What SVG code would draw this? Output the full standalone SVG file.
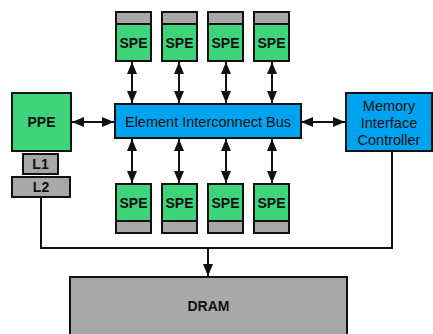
<svg xmlns="http://www.w3.org/2000/svg" width="433" height="334" viewBox="0 0 433 334">
<style>
.g{fill:#3dd47c;stroke:#111;stroke-width:2}
.b{fill:#00a3ef;stroke:#111;stroke-width:2}
.c{fill:#a8a8a8;stroke:#111;stroke-width:2}
.bt{font-family:"Liberation Sans",Arial,sans-serif;font-weight:bold;font-size:14px;fill:#111;text-anchor:middle}
.t{font-family:"Liberation Sans",Arial,sans-serif;font-size:14.5px;fill:#111;text-anchor:middle}
.l{stroke:#111;stroke-width:2;fill:none}
</style>
<defs>
<marker id="a" viewBox="0 0 12 10" refX="12" refY="5" markerWidth="12" markerHeight="10" markerUnits="userSpaceOnUse" orient="auto-start-reverse">
<path d="M0,0 L12,5 L0,10 Z" fill="#111"/>
</marker>
</defs>
<rect width="433" height="334" fill="#fff"/>
<g id="connectors">
<line class="l" x1="132" y1="62" x2="132" y2="103" marker-start="url(#a)" marker-end="url(#a)"/>
<line class="l" x1="179" y1="62" x2="179" y2="103" marker-start="url(#a)" marker-end="url(#a)"/>
<line class="l" x1="226" y1="62" x2="226" y2="103" marker-start="url(#a)" marker-end="url(#a)"/>
<line class="l" x1="272" y1="62" x2="272" y2="103" marker-start="url(#a)" marker-end="url(#a)"/>
<line class="l" x1="132" y1="139" x2="132" y2="183" marker-start="url(#a)" marker-end="url(#a)"/>
<line class="l" x1="179" y1="139" x2="179" y2="183" marker-start="url(#a)" marker-end="url(#a)"/>
<line class="l" x1="226" y1="139" x2="226" y2="183" marker-start="url(#a)" marker-end="url(#a)"/>
<line class="l" x1="272" y1="139" x2="272" y2="183" marker-start="url(#a)" marker-end="url(#a)"/>
<line class="l" x1="72" y1="122" x2="114" y2="122" marker-start="url(#a)" marker-end="url(#a)"/>
<line class="l" x1="301" y1="122" x2="345" y2="122" marker-start="url(#a)" marker-end="url(#a)"/>
<polyline class="l" points="41,197 41,248 392,248 392,151"/>
<line class="l" x1="208" y1="248" x2="208" y2="276" marker-end="url(#a)"/>
</g>
<g id="spe-top-1"><rect class="c" x="116" y="12" width="35" height="12"/><rect class="g" x="116" y="24" width="35" height="37"/><text class="bt" x="133.5" y="48">SPE</text></g>
<g id="spe-top-2"><rect class="c" x="162" y="12" width="35" height="12"/><rect class="g" x="162" y="24" width="35" height="37"/><text class="bt" x="179.5" y="48">SPE</text></g>
<g id="spe-top-3"><rect class="c" x="208" y="12" width="35" height="12"/><rect class="g" x="208" y="24" width="35" height="37"/><text class="bt" x="225.5" y="48">SPE</text></g>
<g id="spe-top-4"><rect class="c" x="254" y="12" width="35" height="12"/><rect class="g" x="254" y="24" width="35" height="37"/><text class="bt" x="271.5" y="48">SPE</text></g>
<g id="spe-bot-1"><rect class="g" x="116" y="184" width="35" height="37"/><rect class="c" x="116" y="221" width="35" height="12"/><text class="bt" x="133.5" y="208">SPE</text></g>
<g id="spe-bot-2"><rect class="g" x="162" y="184" width="35" height="37"/><rect class="c" x="162" y="221" width="35" height="12"/><text class="bt" x="179.5" y="208">SPE</text></g>
<g id="spe-bot-3"><rect class="g" x="208" y="184" width="35" height="37"/><rect class="c" x="208" y="221" width="35" height="12"/><text class="bt" x="225.5" y="208">SPE</text></g>
<g id="spe-bot-4"><rect class="g" x="254" y="184" width="35" height="37"/><rect class="c" x="254" y="221" width="35" height="12"/><text class="bt" x="271.5" y="208">SPE</text></g>
<g id="bus"><rect class="b" x="115" y="104" width="186" height="34"/><text class="t" x="208" y="127">Element Interconnect Bus</text></g>
<g id="ppe"><rect class="g" x="12" y="93" width="59" height="58"/><text class="bt" x="41.5" y="127">PPE</text></g>
<g id="l1"><rect class="c" x="23" y="154" width="35" height="20"/><text class="bt" x="40.5" y="169">L1</text></g>
<g id="l2"><rect class="c" x="12" y="177" width="58" height="20"/><text class="bt" x="41" y="192">L2</text></g>
<g id="mic"><rect class="b" x="346" y="93" width="86" height="58"/><text class="t" x="389" y="111">Memory</text><text class="t" x="389" y="128">Interface</text><text class="t" x="389" y="145">Controller</text></g>
<g id="dram"><rect class="c" x="70" y="277" width="277" height="60"/><text class="bt" x="208.5" y="311">DRAM</text></g>
</svg>
